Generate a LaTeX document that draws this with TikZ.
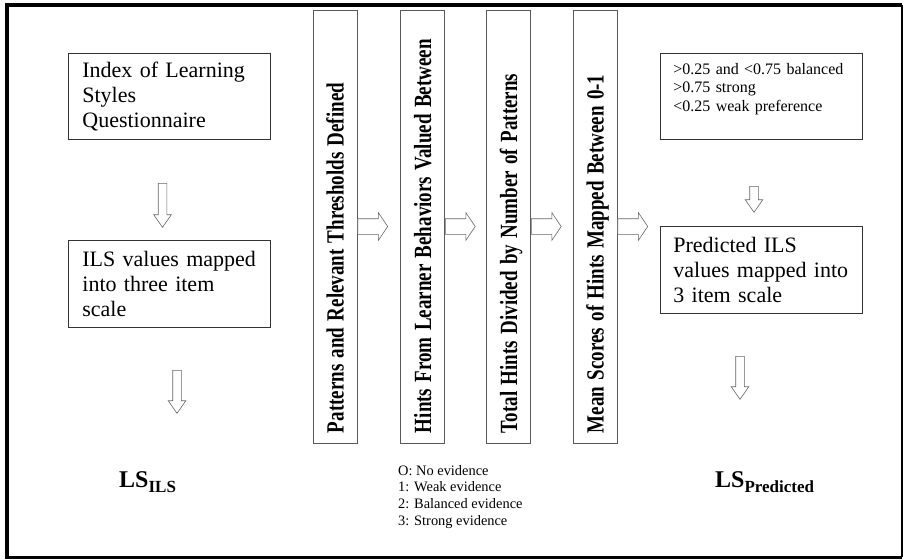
\documentclass[tikz,border=0pt]{standalone}
\usepackage{fontspec}
\setmainfont{Liberation Serif}
\usepackage{graphicx}
\usetikzlibrary{shapes.arrows,positioning}

\tikzset{
  txtbox/.style={draw=black!80, line width=0.8pt, anchor=north west,
    align=left, inner xsep=14pt, inner ysep=0pt,
    font=\fontsize{22}{25}\selectfont},
  vbox/.style={draw=black!65, line width=0.8pt, rotate=90,
    text width=413pt, align=left, inner xsep=10pt, inner ysep=0pt,
    minimum height=44pt, text height=17pt, text depth=0pt,
    font=\fontsize{19}{19}\selectfont\bfseries},
  varrow/.style={single arrow, draw=black!60, fill=white, line width=0.6pt,
    inner sep=0pt, text height=4pt, text depth=4pt,
    single arrow head extend=4.5pt, single arrow tip angle=70,
    minimum height=#1, rotate=-90, anchor=tail},
  harrow/.style={single arrow, draw=black!60, fill=white, line width=0.6pt,
    inner sep=0pt, text height=7.5pt, text depth=7.5pt,
    single arrow head extend=6pt, single arrow tip angle=112,
    minimum height=30pt, anchor=tail},
  lslabel/.style={anchor=base west, inner sep=0pt,
    font=\fontsize{24}{24}\selectfont\bfseries}
}
\newcommand\tallbf[1]{\scalebox{1}[1.3]{#1}}
\newcommand\lssub[1]{\raisebox{-5pt}{\fontsize{17}{17}\selectfont #1}}

\begin{document}
\begin{tikzpicture}[x=1pt,y=-1pt]
\useasboundingbox (0,0) rectangle (904,559);

% frame
\draw[line width=4pt] (7,557) -- (7,5) -- (902,5);
\draw[line width=3pt] (5,557) -- (902,557);
\draw[line width=1.5pt] (902,5) -- (902,557);

% left column
\node[txtbox, text width=174pt, minimum height=86pt] (ilsq) at (68,53)
  {Index of Learning\\ Styles\\ Questionnaire};
\node[txtbox, text width=174pt, minimum height=87pt] (ilsmap) at (68,240)
  {ILS values mapped\\ into three item\\ scale};
\node[varrow=44pt] (arr-l1) at (162.5,183) {};
\node[varrow=43pt] (arr-l2) at (177,370) {};
\node[lslabel] (ls-ils) at (119,487) {LS\lssub{ILS}};

% vertical steps
\node[vbox] (step1) at (335,226.5)
  {\tallbf{Patterns and Relevant Thresholds Defined}};
\node[vbox] (step2) at (422.5,226.5)
  {\tallbf{Hints From Learner Behaviors Valued Between}};
\node[vbox] (step3) at (508.5,226.5)
  {\tallbf{Total Hints Divided by Number of Patterns}};
\node[vbox] (step4) at (595,226.5)
  {\tallbf{Mean Scores of Hints Mapped Between 0-1}};

\node[harrow] (arr-h1) at (step1.south) {};
\node[harrow] (arr-h2) at (step2.south) {};
\node[harrow] (arr-h3) at (step3.south) {};
\node[harrow] (arr-h4) at (step4.south) {};

\node[anchor=north west, inner sep=0pt, align=left,
  font=\fontsize{14.4}{16.7}\selectfont] (legend) at (398,465)
  {O: No evidence\\ 1: Weak evidence\\ 2: Balanced evidence\\ 3: Strong evidence};

% right column
\node[txtbox, text width=176pt, minimum height=86pt, inner xsep=13pt,
  font=\fontsize{16}{18.5}\selectfont] (thresh) at (660,53)
  {>0.25 and <0.75 balanced\\ >0.75 strong\\ <0.25 weak preference\\ \mbox{}};
\node[txtbox, text width=176pt, minimum height=87pt, inner xsep=13pt] (predmap) at (660,226)
  {Predicted ILS\\ values mapped into\\ 3 item scale};
\node[varrow=26pt] (arr-r1) at (754,186) {};
\node[varrow=43pt] (arr-r2) at (740,356) {};
\node[lslabel] (ls-pred) at (715,487) {LS\lssub{Predicted}};

\end{tikzpicture}
\end{document}
